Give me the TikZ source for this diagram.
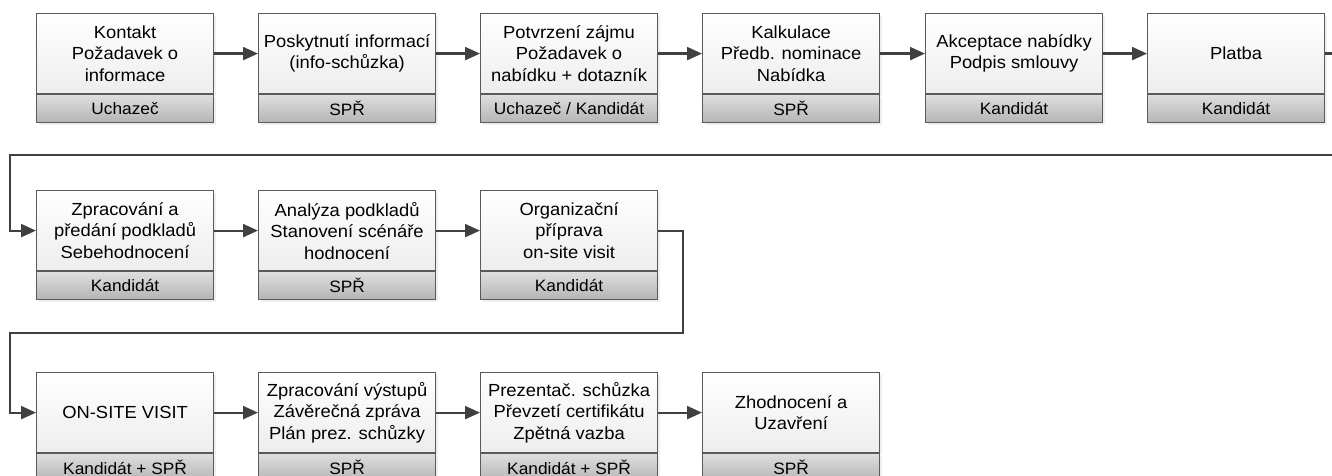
\documentclass[tikz,border=0pt]{standalone}
\usepackage{fontspec}
\setmainfont[FakeStretch=1.05]{Liberation Sans}
\usetikzlibrary{positioning,shadows,arrows.meta}

\definecolor{boxline}{HTML}{5A5A5A}
\definecolor{flowline}{HTML}{404040}
\definecolor{rolelo}{HTML}{B4B4B4}
\definecolor{rolehi}{HTML}{DEDEDE}

\tikzset{
  task/.style={draw=boxline, line width=1.2pt, top color=white, bottom color=black!7,
    minimum width=177pt, minimum height=80pt, inner sep=0pt, align=center,
    font=\fontsize{17.5}{21.5}\selectfont,
    drop shadow={shadow xshift=2.5pt, shadow yshift=-2.5pt, fill=black!12}},
  role/.style={draw=boxline, line width=1.2pt, top color=rolehi, bottom color=rolelo,
    minimum width=177pt, minimum height=28pt, inner sep=0pt,
    font=\fontsize{16.5}{18}\selectfont,
    drop shadow={shadow xshift=2.5pt, shadow yshift=-2.5pt, fill=black!12}},
  flow/.style={draw=flowline, line width=2.2pt, -{Triangle[length=15pt,width=13pt]}}
}

\begin{document}
\begin{tikzpicture}[x=1pt, y=-1pt]
  \useasboundingbox (0,0) rectangle (1332,476);

  % boxes: name / left / top / text / role
  \foreach \n/\x/\y/\t/\r in {
      s1/36/13/{Kontakt\\Požadavek o\\informace}/Uchazeč,
      s2/258/13/{Poskytnutí informací\\(info-schůzka)}/SPŘ,
      s3/480/13/{Potvrzení zájmu\\Požadavek o\\nabídku + dotazník}/{Uchazeč / Kandidát},
      s4/702/13/{Kalkulace\\Předb. nominace\\Nabídka}/SPŘ,
      s5/925/13/{Akceptace nabídky\\Podpis smlouvy}/Kandidát,
      s6/1147/13/{Platba}/Kandidát,
      s7/36/190/{Zpracování a\\předání podkladů\\Sebehodnocení}/Kandidát,
      s8/258/190/{Analýza podkladů\\Stanovení scénáře\\hodnocení}/SPŘ,
      s9/480/190/{Organizační\\příprava\\on-site visit}/Kandidát,
      s10/36/372/{ON-SITE VISIT}/{Kandidát + SPŘ},
      s11/258/372/{Zpracování výstupů\\Závěrečná zpráva\\Plán prez. schůzky}/SPŘ,
      s12/480/372/{Prezentač. schůzka\\Převzetí certifikátu\\Zpětná vazba}/{Kandidát + SPŘ},
      s13/702/372/{Zhodnocení a\\Uzavření}/SPŘ}
  {
    \node[task, anchor=north west] (\n) at (\x,\y) {\t};
    \node[role, below=0pt of \n] (\n r) {\r};
  }

  % arrows within a row
  \foreach \a/\b in {s1/s2,s2/s3,s3/s4,s4/s5,s5/s6,s7/s8,s8/s9,s10/s11,s11/s12,s12/s13}
    \draw[flow] (\a) -- (\b);

  % wrap-around lines
  \coordinate (edge1) at (1340,155);
  \coordinate (turn1) at (10,155);
  \coordinate (edge2) at (683,333);
  \coordinate (turn2) at (10,333);
  \draw[flow] (s6.east) -| (edge1) -- (turn1) |- (s7.west);
  \draw[flow] (s9.east) -| (edge2) -- (turn2) |- (s10.west);
\end{tikzpicture}
\end{document}
